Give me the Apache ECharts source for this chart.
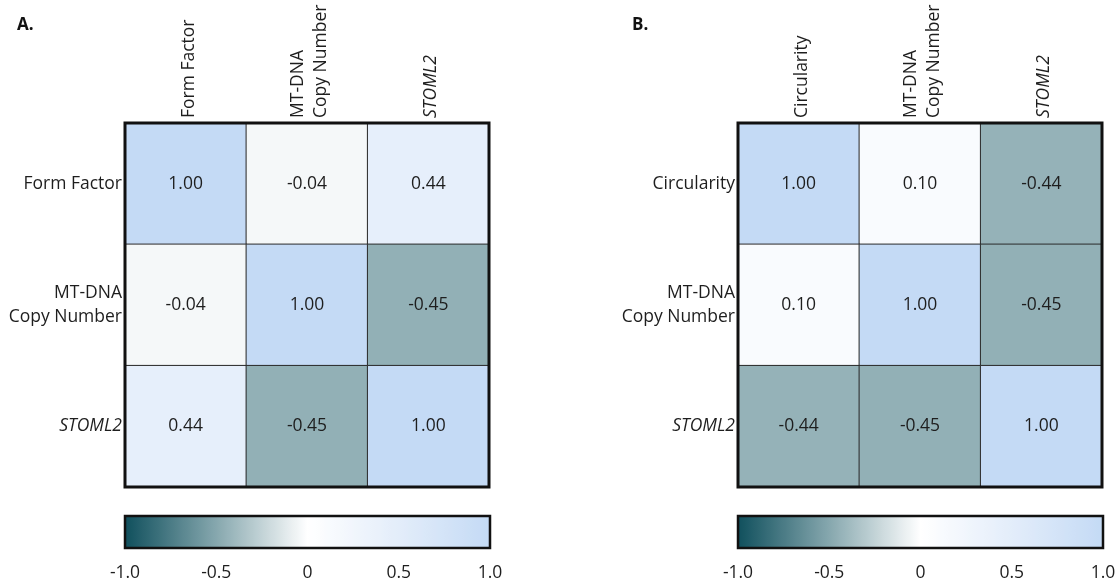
<!DOCTYPE html>
<html>
<head>
<meta charset="utf-8">
<title>Correlation heatmaps</title>
<script src="https://cdn.jsdelivr.net/npm/echarts@6/dist/echarts.min.js"></script>
<style>
  html, body { margin: 0; padding: 0; background: #ffffff; }
  #chart { width: 1120px; height: 587px; }
</style>
</head>
<body>
<div id="chart"></div>
<script>
// Variable names for each panel (rows top to bottom, columns left to right)
const varsA = ['Form Factor', 'MT-DNA\nCopy Number', 'STOML2'];
const varsB = ['Circularity', 'MT-DNA\nCopy Number', 'STOML2'];

// Pearson correlation matrices, row-major
const corrA = [
  [1.00, -0.04, 0.44],
  [-0.04, 1.00, -0.45],
  [0.44, -0.45, 1.00]
];
const corrB = [
  [1.00, 0.10, -0.44],
  [0.10, 1.00, -0.45],
  [-0.44, -0.45, 1.00]
];

// Colour bar scale
const scaleTicks = [-1.0, -0.5, 0, 0.5, 1.0];
const scaleTickLabels = ['-1.0', '-0.5', '0', '0.5', '1.0'];
const panelLetters = ['A.', 'B.'];

const FONT = '"Open Sans", "Noto Sans", sans-serif';
const FS = 17.5;
const TEXT = '#1e1e1e';
const rampColors = ['#10505d', '#86a7ae', '#ffffff', '#e3edfa', '#c4daf5'];

function toCells(m) {
  const out = [];
  m.forEach((row, r) => row.forEach((v, c) => out.push([c, r, v])));
  return out;
}

// gene names are set in italics
function nameFmt(v) {
  return v === 'STOML2' ? '{i|' + v + '}' : v;
}
const richItalic = { i: { fontStyle: 'italic', fontFamily: FONT, fontSize: FS, color: TEXT } };

const panels = [
  { vars: varsA, corr: corrA, left: 125 },
  { vars: varsB, corr: corrB, left: 738 }
];

const grids = [], xAxes = [], yAxes = [], series = [], visualMaps = [], titles = [];

panels.forEach((p, i) => {
  // heatmap grid
  grids.push({ left: p.left, top: 123, width: 364, height: 364, show: true,
    borderColor: '#111', borderWidth: 3, backgroundColor: 'transparent', z: 5 });
  // colour bar grid
  grids.push({ left: p.left, top: 516, width: 365, height: 32, show: true,
    borderColor: '#111', borderWidth: 2.5, backgroundColor: 'transparent', z: 5 });

  const hg = i * 2, cg = i * 2 + 1;

  xAxes.push({
    type: 'category', gridIndex: hg, data: p.vars, position: 'top',
    axisLine: { show: false }, axisTick: { show: false }, splitLine: { show: false },
    axisLabel: { rotate: -90, margin: 5, fontFamily: FONT, fontSize: FS, color: TEXT,
      lineHeight: 23, padding: [6, 0, 0, 0], interval: 0, formatter: nameFmt, rich: richItalic }
  });
  yAxes.push({
    type: 'category', gridIndex: hg, data: p.vars, inverse: true,
    axisLine: { show: false }, axisTick: { show: false }, splitLine: { show: false },
    axisLabel: { margin: 3, fontFamily: FONT, fontSize: FS, color: TEXT, align: 'right',
      lineHeight: 24, interval: 0, formatter: nameFmt, rich: richItalic }
  });

  // colour bar axes: labelled bottom axis and a tick-only top axis
  xAxes.push({
    type: 'value', gridIndex: cg, min: scaleTicks[0], max: scaleTicks[scaleTicks.length - 1],
    interval: 0.5, position: 'bottom',
    axisLine: { show: false }, splitLine: { show: false },
    axisTick: { show: true, inside: true, length: 5, lineStyle: { color: '#111', width: 2 } },
    axisLabel: { margin: 16, fontFamily: FONT, fontSize: FS, color: TEXT,
      formatter: v => scaleTickLabels[scaleTicks.indexOf(v)] }
  });
  xAxes.push({
    type: 'value', gridIndex: cg, min: scaleTicks[0], max: scaleTicks[scaleTicks.length - 1],
    interval: 0.5, position: 'top',
    axisLine: { show: false }, splitLine: { show: false }, axisLabel: { show: false },
    axisTick: { show: true, inside: true, length: 5, lineStyle: { color: '#111', width: 2 } }
  });
  yAxes.push({ type: 'value', gridIndex: cg, min: 0, max: 1, show: false });

  series.push({
    type: 'heatmap', name: 'corr' + i,
    xAxisIndex: i * 3, yAxisIndex: i * 2,
    data: toCells(p.corr),
    itemStyle: { borderColor: '#2a2a2a', borderWidth: 1 },
    label: { show: true, fontFamily: FONT, fontSize: FS, color: TEXT,
      formatter: d => d.value[2].toFixed(2) },
    emphasis: { disabled: true }
  });

  visualMaps.push({
    type: 'continuous', seriesIndex: i, dimension: 2,
    min: -1, max: 1, orient: 'horizontal', calculable: false,
    left: p.left, top: 516, itemWidth: 32, itemHeight: 365, padding: 0,
    text: null, inRange: { color: rampColors }
  });
});

titles.push({ text: panelLetters[0], left: 17, top: 17, padding: 0,
  textStyle: { fontFamily: FONT, fontSize: 17, fontWeight: 'bold', color: '#111' } });
titles.push({ text: panelLetters[1], left: 632, top: 17, padding: 0,
  textStyle: { fontFamily: FONT, fontSize: 17, fontWeight: 'bold', color: '#111' } });

const chart = echarts.init(document.getElementById('chart'), null, { renderer: 'canvas' });
chart.setOption({
  backgroundColor: '#ffffff',
  animation: false,
  title: titles,
  grid: grids,
  xAxis: xAxes,
  yAxis: yAxes,
  visualMap: visualMaps,
  series: series
});
</script>
</body>
</html>
